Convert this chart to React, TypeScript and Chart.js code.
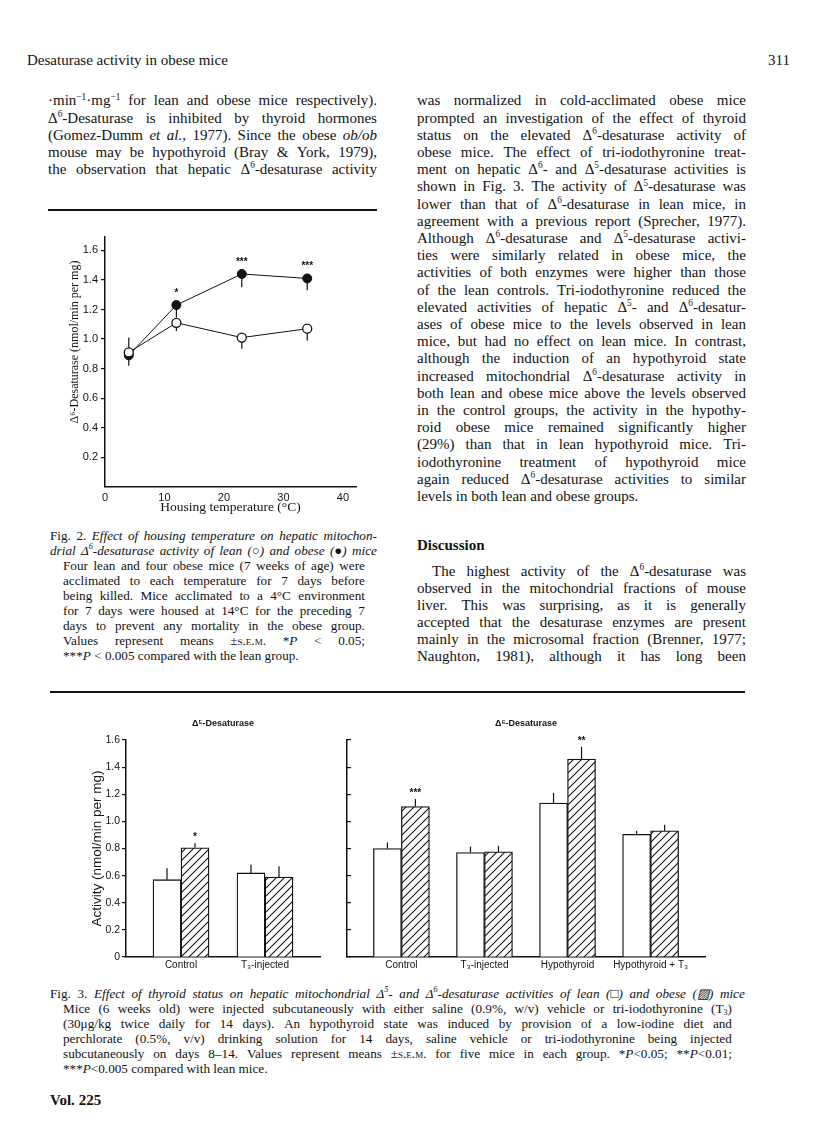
import React, { useEffect, useRef } from 'react';
import { Chart, registerables } from 'chart.js';

Chart.register(...registerables);

const INK = '#121212';
const SERIF = '"Liberation Serif", "Times New Roman", serif';
const SANS = '"Liberation Sans", Arial, sans-serif';

// ---------- Fig. 2 data (housing temperature experiment) ----------
const fig2Temperatures = [4, 12, 23, 34];
const fig2LeanMeans = [0.91, 1.11, 1.01, 1.07];
// signed S.E.M.: positive = bar drawn upward, negative = bar drawn downward
const fig2LeanSem = [0.1, -0.055, -0.075, -0.08];
const fig2ObeseMeans = [0.89, 1.23, 1.44, 1.41];
const fig2ObeseSem = [-0.07, -0.085, -0.09, -0.08];
const fig2ObeseSig = ['', '*', '***', '***'];
const fig2XTicks = [0, 10, 20, 30, 40];
const fig2YTicks = [0.2, 0.4, 0.6, 0.8, 1.0, 1.2, 1.4, 1.6];

// ---------- Fig. 3 data (thyroid status) ----------
const d5Groups = ['Control', 'T₃-injected'];
const d5Lean = [0.57, 0.62];
const d5LeanSem = [0.085, 0.06];
const d5Obese = [0.805, 0.59];
const d5ObeseSem = [0.035, 0.08];
const d5Sig = ['*', ''];

const d6Groups = ['Control', 'T₃-injected', 'Hypothyroid', 'Hypothyroid + T₃'];
const d6Lean = [0.8, 0.77, 1.135, 0.905];
const d6LeanSem = [0.045, 0.045, 0.075, 0.025];
const d6Obese = [1.11, 0.775, 1.46, 0.93];
const d6ObeseSem = [0.055, 0.045, 0.09, 0.045];
const d6Sig = ['***', '', '**', ''];
const fig3YTicks = [0, 0.2, 0.4, 0.6, 0.8, 1.0, 1.2, 1.4, 1.6];

// ---------- page text ----------
const leftColumnLines = [
  '·min^−^1·mg^−^1 for lean and obese mice respectively).',
  'Δ^6-Desaturase is inhibited by thyroid hormones',
  '(Gomez-Dumm {et al.}, 1977). Since the obese {ob/ob}',
  'mouse may be hypothyroid (Bray & York, 1979),',
  'the observation that hepatic Δ^6-desaturase activity',
];
const rightColumnLines = [
  'was normalized in cold-acclimated obese mice',
  'prompted an investigation of the effect of thyroid',
  'status on the elevated Δ^6-desaturase activity of',
  'obese mice. The effect of tri-iodothyronine treat-',
  'ment on hepatic Δ^6- and Δ^5-desaturase activities is',
  'shown in Fig. 3. The activity of Δ^5-desaturase was',
  'lower than that of Δ^6-desaturase in lean mice, in',
  'agreement with a previous report (Sprecher, 1977).',
  'Although Δ^6-desaturase and Δ^5-desaturase activi-',
  'ties were similarly related in obese mice, the',
  'activities of both enzymes were higher than those',
  'of the lean controls. Tri-iodothyronine reduced the',
  'elevated activities of hepatic Δ^5- and Δ^6-desatur-',
  'ases of obese mice to the levels observed in lean',
  'mice, but had no effect on lean mice. In contrast,',
  'although the induction of an hypothyroid state',
  'increased mitochondrial Δ^6-desaturase activity in',
  'both lean and obese mice above the levels observed',
  'in the control groups, the activity in the hypothy-',
  'roid obese mice remained significantly higher',
  '(29%) than that in lean hypothyroid mice. Tri-',
  'iodothyronine treatment of hypothyroid mice',
  'again reduced Δ^6-desaturase activities to similar',
  'levels in both lean and obese groups.',
];
const fig2CaptionLines = [
  'Fig. 2. {Effect of housing temperature on hepatic mitochon-}',
  '{drial Δ^6-desaturase activity of lean (○) and obese (●) mice}',
  'Four lean and four obese mice (7 weeks of age) were',
  'acclimated to each temperature for 7 days before',
  'being killed. Mice acclimated to a 4°C environment',
  'for 7 days were housed at 14°C for the preceding 7',
  'days to prevent any mortality in the obese group.',
  'Values represent means ±[s.e.m.] *{P} < 0.05;',
  '***{P} < 0.005 compared with the lean group.',
];
const discussionLines = [
  'The highest activity of the Δ^6-desaturase was',
  'observed in the mitochondrial fractions of mouse',
  'liver. This was surprising, as it is generally',
  'accepted that the desaturase enzymes are present',
  'mainly in the microsomal fraction (Brenner, 1977;',
  'Naughton, 1981), although it has long been',
];
const fig3CaptionLines = [
  'Fig. 3. {Effect of thyroid status on hepatic mitochondrial Δ^5- and Δ^6-desaturase activities of lean (□) and obese (▨) mice}',
  'Mice (6 weeks old) were injected subcutaneously with either saline (0.9%, w/v) vehicle or tri-iodothyronine (T_3)',
  '(30μg/kg twice daily for 14 days). An hypothyroid state was induced by provision of a low-iodine diet and',
  'perchlorate (0.5%, v/v) drinking solution for 14 days, saline vehicle or tri-iodothyronine being injected',
  'subcutaneously on days 8–14. Values represent means ±[s.e.m.] for five mice in each group. *{P}<0.05; **{P}<0.01;',
  '***{P}<0.005 compared with lean mice.',
];

// ---------- helpers ----------
function renderWords(text: string) {
  const words = text.split(' ').filter(Boolean);
  let italic = false;
  let smallCaps = false;
  return words.map((w, wi) => {
    const nodes: any[] = [];
    let buf = '';
    let k = 0;
    const flush = () => {
      if (buf) {
        nodes.push(
          <span key={k++} style={{ fontStyle: italic ? 'italic' : 'normal', fontVariant: smallCaps ? 'small-caps' : 'normal' }}>
            {buf}
          </span>
        );
        buf = '';
      }
    };
    for (let i = 0; i < w.length; i++) {
      const ch = w[i];
      if (ch === '{') { flush(); italic = true; }
      else if (ch === '}') { flush(); italic = false; }
      else if (ch === '[') { flush(); smallCaps = true; }
      else if (ch === ']') { flush(); smallCaps = false; }
      else if (ch === '^' || ch === '_') {
        flush();
        const n = w[++i];
        nodes.push(
          <span key={k++} style={{ fontSize: '0.62em', position: 'relative', top: ch === '^' ? '-0.62em' : '0.3em', fontStyle: italic ? 'italic' : 'normal' }}>
            {n}
          </span>
        );
      } else buf += ch;
    }
    flush();
    return <span key={wi} style={{ whiteSpace: 'nowrap' }}>{nodes}</span>;
  });
}

function TextLine(props: { x: number; y: number; w: number; size: number; lh: number; text: string; justify?: boolean; bold?: boolean }) {
  const { x, y, w, size, lh, text, justify = true, bold = false } = props;
  return (
    <div
      style={{
        position: 'absolute', left: x, top: y - lh / 2, width: w, height: lh,
        lineHeight: `${lh}px`, fontSize: size, fontWeight: bold ? 'bold' : 'normal',
        display: 'flex', justifyContent: justify ? 'space-between' : 'flex-start',
        columnGap: '0.25em', whiteSpace: 'nowrap',
      }}
    >
      {renderWords(text)}
    </div>
  );
}

type Marks = { dataset: number; values: number[]; sem: number[]; sig?: string[]; sigGap: number };

function marksPlugin(id: string, marks: Marks[]) {
  return {
    id,
    beforeDatasetsDraw(chart: any) {
      const { ctx } = chart;
      const ys = chart.scales.y;
      ctx.save();
      ctx.strokeStyle = INK;
      ctx.lineWidth = 1.2;
      marks.forEach((m) => {
        const meta = chart.getDatasetMeta(m.dataset);
        meta.data.forEach((el: any, i: number) => {
          const y0 = ys.getPixelForValue(m.values[i]);
          const y1 = ys.getPixelForValue(m.values[i] + m.sem[i]);
          ctx.beginPath();
          ctx.moveTo(el.x, y0);
          ctx.lineTo(el.x, y1);
          ctx.stroke();
        });
      });
      ctx.restore();
    },
    afterDatasetsDraw(chart: any) {
      const { ctx } = chart;
      const ys = chart.scales.y;
      ctx.save();
      ctx.fillStyle = INK;
      ctx.font = `bold 10px ${SANS}`;
      ctx.textAlign = 'center';
      ctx.textBaseline = 'middle';
      marks.forEach((m) => {
        if (!m.sig) return;
        const meta = chart.getDatasetMeta(m.dataset);
        meta.data.forEach((el: any, i: number) => {
          const s = m.sig![i];
          if (!s) return;
          const y0 = ys.getPixelForValue(m.values[i]);
          const y1 = ys.getPixelForValue(m.values[i] + m.sem[i]);
          ctx.fillText(s, el.x, Math.min(y0, y1) - m.sigGap);
        });
      });
      ctx.restore();
    },
  };
}

// y-axis title drawn a little above the middle of the axis, as in the printed figure
function raisedYTitlePlugin(text: string, font: string, xOffset: number, raise: number) {
  return {
    id: 'raisedYTitle',
    afterDraw(chart: any) {
      const { ctx, chartArea } = chart;
      const ys = chart.scales.y;
      ctx.save();
      ctx.fillStyle = INK;
      ctx.font = font;
      ctx.textAlign = 'center';
      ctx.textBaseline = 'middle';
      ctx.translate(ys.left + xOffset, (chartArea.top + chartArea.bottom) / 2 - raise);
      ctx.rotate(-Math.PI / 2);
      ctx.fillText(text, 0, 0);
      ctx.restore();
    },
  };
}

function makeHatch(): any {
  const c = document.createElement('canvas');
  c.width = 8;
  c.height = 8;
  const g = c.getContext('2d');
  if (!g) return '#fff';
  g.fillStyle = '#fff';
  g.fillRect(0, 0, 8, 8);
  g.strokeStyle = INK;
  g.lineWidth = 1.1;
  g.beginPath();
  g.moveTo(-2, 10); g.lineTo(10, -2);
  g.moveTo(-2, 2); g.lineTo(2, -2);
  g.moveTo(6, 10); g.lineTo(10, 6);
  g.stroke();
  return g.createPattern(c, 'repeat') || '#fff';
}

function barChart(canvas: HTMLCanvasElement, groups: string[], lean: number[], leanSem: number[], obese: number[], obeseSem: number[], sig: string[], title: string, showY: boolean, hatch: any) {
  return new Chart(canvas, {
    type: 'bar',
    data: {
      datasets: [
        {
          label: 'Lean',
          data: groups.map((_, i) => ({ x: i, y: lean[i] })),
          backgroundColor: '#fff',
          borderColor: INK,
          borderWidth: 1.3,
          barThickness: 28,
        },
        {
          label: 'Obese',
          data: groups.map((_, i) => ({ x: i, y: obese[i] })),
          backgroundColor: hatch,
          borderColor: INK,
          borderWidth: 1.3,
          barThickness: 28,
        },
      ],
    } as any,
    options: {
      responsive: false,
      animation: false,
      events: [],
      layout: { padding: { top: 0, right: 10, left: 0, bottom: 0 } },
      plugins: {
        legend: { display: false },
        tooltip: { enabled: false },
        title: {
          display: true,
          text: title,
          fullSize: false,
          align: 'center',
          color: INK,
          font: { family: SANS, size: 9, weight: 'bold' },
          padding: { top: 8.5, bottom: 10.7 },
        },
      },
      scales: {
        x: {
          type: 'linear',
          min: -0.655,
          max: groups.length - 1 + 0.655,
          offset: false,
          afterBuildTicks: (s: any) => { s.ticks = groups.map((_, i) => ({ value: i })); },
          afterFit: (s: any) => { s.height = 23; },
          grid: { display: false, drawTicks: false, offset: false },
          border: { color: INK, width: 1.5 },
          ticks: {
            padding: 2, autoSkip: false, maxRotation: 0, minRotation: 0, color: INK,
            font: { family: SANS, size: 10 },
            callback: (v: any) => groups[Number(v)] ?? '',
          },
        },
        y: {
          type: 'linear',
          min: 0,
          max: 1.6,
          afterBuildTicks: (s: any) => { s.ticks = fig3YTicks.map((v) => ({ value: v })); },
          afterFit: (s: any) => { s.width = showY ? 66 : 12; },
          grid: { drawOnChartArea: false, drawTicks: true, tickLength: showY ? 4 : -4, color: INK, lineWidth: 1.2 },
          border: { color: INK, width: 1.5 },
          ticks: {
            display: showY, padding: 2, color: INK,
            font: { family: SANS, size: 10.5 },
            callback: (v: any) => (Number(v) === 0 ? '0' : Number(v).toFixed(1)),
          },
          title: {
            display: showY,
            text: 'Activity (nmol/min per mg)',
            color: INK,
            font: { family: SANS, size: 13.5 },
            padding: { top: 28.9, bottom: 0 },
          },
        },
      },
    } as any,
    plugins: [
      marksPlugin('fig3marks', [
        { dataset: 0, values: lean, sem: leanSem, sigGap: 6 },
        { dataset: 1, values: obese, sem: obeseSem, sig, sigGap: 6 },
      ]),
    ],
  });
}

export default function App() {
  const fig2Ref = useRef<HTMLCanvasElement>(null);
  const d5Ref = useRef<HTMLCanvasElement>(null);
  const d6Ref = useRef<HTMLCanvasElement>(null);

  useEffect(() => {
    const charts: Chart[] = [];
    const hatch = makeHatch();

    if (fig2Ref.current) {
      charts.push(
        new Chart(fig2Ref.current, {
          type: 'line',
          data: {
            datasets: [
              {
                label: 'Lean',
                data: fig2Temperatures.map((t, i) => ({ x: t, y: fig2LeanMeans[i] })),
                borderColor: INK,
                borderWidth: 1,
                pointRadius: 4.5,
                pointBackgroundColor: '#fff',
                pointBorderColor: INK,
                pointBorderWidth: 1.3,
                tension: 0,
              },
              {
                label: 'Obese',
                data: fig2Temperatures.map((t, i) => ({ x: t, y: fig2ObeseMeans[i] })),
                borderColor: INK,
                borderWidth: 1,
                pointRadius: 4.5,
                pointBackgroundColor: INK,
                pointBorderColor: INK,
                pointBorderWidth: 1,
                tension: 0,
              },
            ],
          } as any,
          options: {
            responsive: false,
            animation: false,
            events: [],
            layout: { padding: { top: 12, right: 14, left: 0, bottom: 0 } },
            plugins: { legend: { display: false }, tooltip: { enabled: false } },
            scales: {
              x: {
                type: 'linear',
                min: 0,
                max: 42.2,
                afterBuildTicks: (s: any) => { s.ticks = fig2XTicks.map((v) => ({ value: v })); },
                afterFit: (s: any) => { s.height = 38; },
                grid: { display: false, drawTicks: false },
                border: { color: INK, width: 1.5 },
                ticks: { padding: 4, maxRotation: 0, autoSkip: false, color: INK, font: { family: SANS, size: 11 } },
                title: {
                  display: true,
                  text: 'Housing temperature (°C)',
                  color: INK,
                  font: { family: SERIF, size: 13.5 },
                  padding: { top: 0, bottom: 9 },
                },
              },
              y: {
                type: 'linear',
                min: 0,
                max: 1.69,
                afterBuildTicks: (s: any) => { s.ticks = fig2YTicks.map((v) => ({ value: v })); },
                afterFit: (s: any) => { s.width = 65; },
                grid: { drawOnChartArea: false, drawTicks: true, tickLength: 4, color: INK, lineWidth: 1.2 },
                border: { color: INK, width: 1.5 },
                ticks: { padding: 3, color: INK, font: { family: SANS, size: 11 }, callback: (v: any) => Number(v).toFixed(1) },
                title: { display: false },
              },
            },
          } as any,
          plugins: [
            marksPlugin('fig2marks', [
              { dataset: 0, values: fig2LeanMeans, sem: fig2LeanSem, sigGap: 12 },
              { dataset: 1, values: fig2ObeseMeans, sem: fig2ObeseSem, sig: fig2ObeseSig, sigGap: 12 },
            ]),
            raisedYTitlePlugin('Δ⁶-Desaturase (nmol/min per mg)', `12px ${SERIF}`, 35, 20),
          ],
        })
      );
    }
    if (d5Ref.current) {
      charts.push(barChart(d5Ref.current, d5Groups, d5Lean, d5LeanSem, d5Obese, d5ObeseSem, d5Sig, 'Δ⁵-Desaturase', true, hatch));
    }
    if (d6Ref.current) {
      charts.push(barChart(d6Ref.current, d6Groups, d6Lean, d6LeanSem, d6Obese, d6ObeseSem, d6Sig, 'Δ⁶-Desaturase', false, hatch));
    }
    return () => charts.forEach((c) => c.destroy());
  }, []);

  const bodyTop = 101;
  const bodyLh = 17.2;
  const bodySize = 15;
  const capSize = 13.2;

  return (
    <div
      style={{
        position: 'absolute', left: 0, top: 0, width: 816, height: 1136,
        background: '#fff', overflow: 'hidden', color: INK, fontFamily: SERIF,
      }}
    >
      {/* running head */}
      <TextLine x={27} y={60} w={300} size={15} lh={18} text="Desaturase activity in obese mice" justify={false} />
      <div style={{ position: 'absolute', left: 700, top: 51, width: 90, height: 18, lineHeight: '18px', fontSize: 15, textAlign: 'right' }}>311</div>

      {/* left column text */}
      {leftColumnLines.map((t, i) => (
        <TextLine key={'l' + i} x={48} y={bodyTop + i * bodyLh} w={329} size={bodySize} lh={bodyLh} text={t} />
      ))}
      <div style={{ position: 'absolute', left: 48, top: 209, width: 329, height: 1.5, background: INK }} />

      {/* right column text */}
      {rightColumnLines.map((t, i) => (
        <TextLine key={'r' + i} x={417} y={bodyTop + i * bodyLh} w={329} size={bodySize} lh={bodyLh} text={t} justify={i < rightColumnLines.length - 1} />
      ))}

      {/* Fig. 2 */}
      <canvas ref={fig2Ref} width={330} height={300} style={{ position: 'absolute', left: 40, top: 225, width: 330, height: 300 }} />
      {fig2CaptionLines.map((t, i) => (
        <TextLine
          key={'c2' + i}
          x={i < 2 ? 50 : 63}
          y={i < 2 ? 535 + i * 15 : 565 + (i - 2) * 15}
          w={i < 2 ? 327 : 302}
          size={capSize}
          lh={15}
          text={t}
          justify={i < fig2CaptionLines.length - 1}
        />
      ))}

      {/* Discussion */}
      <TextLine x={417} y={545} w={200} size={15} lh={18} text="Discussion" justify={false} bold />
      {discussionLines.map((t, i) => (
        <TextLine key={'d' + i} x={i === 0 ? 432 : 417} y={571 + i * 17} w={i === 0 ? 314 : 329} size={bodySize} lh={17} text={t} />
      ))}
      <div style={{ position: 'absolute', left: 50, top: 691, width: 695, height: 1.5, background: INK }} />

      {/* Fig. 3 */}
      <canvas ref={d5Ref} width={270} height={270} style={{ position: 'absolute', left: 60, top: 710, width: 270, height: 270 }} />
      <canvas ref={d6Ref} width={380} height={270} style={{ position: 'absolute', left: 335, top: 710, width: 380, height: 270 }} />
      {fig3CaptionLines.map((t, i) => (
        <TextLine
          key={'c3' + i}
          x={i === 0 ? 50 : 63}
          y={993 + i * 15}
          w={i === 0 ? 695 : 669}
          size={capSize}
          lh={15}
          text={t}
          justify={i < fig3CaptionLines.length - 1}
        />
      ))}

      <TextLine x={50} y={1100} w={120} size={15} lh={18} text="Vol. 225" justify={false} bold />
    </div>
  );
}
